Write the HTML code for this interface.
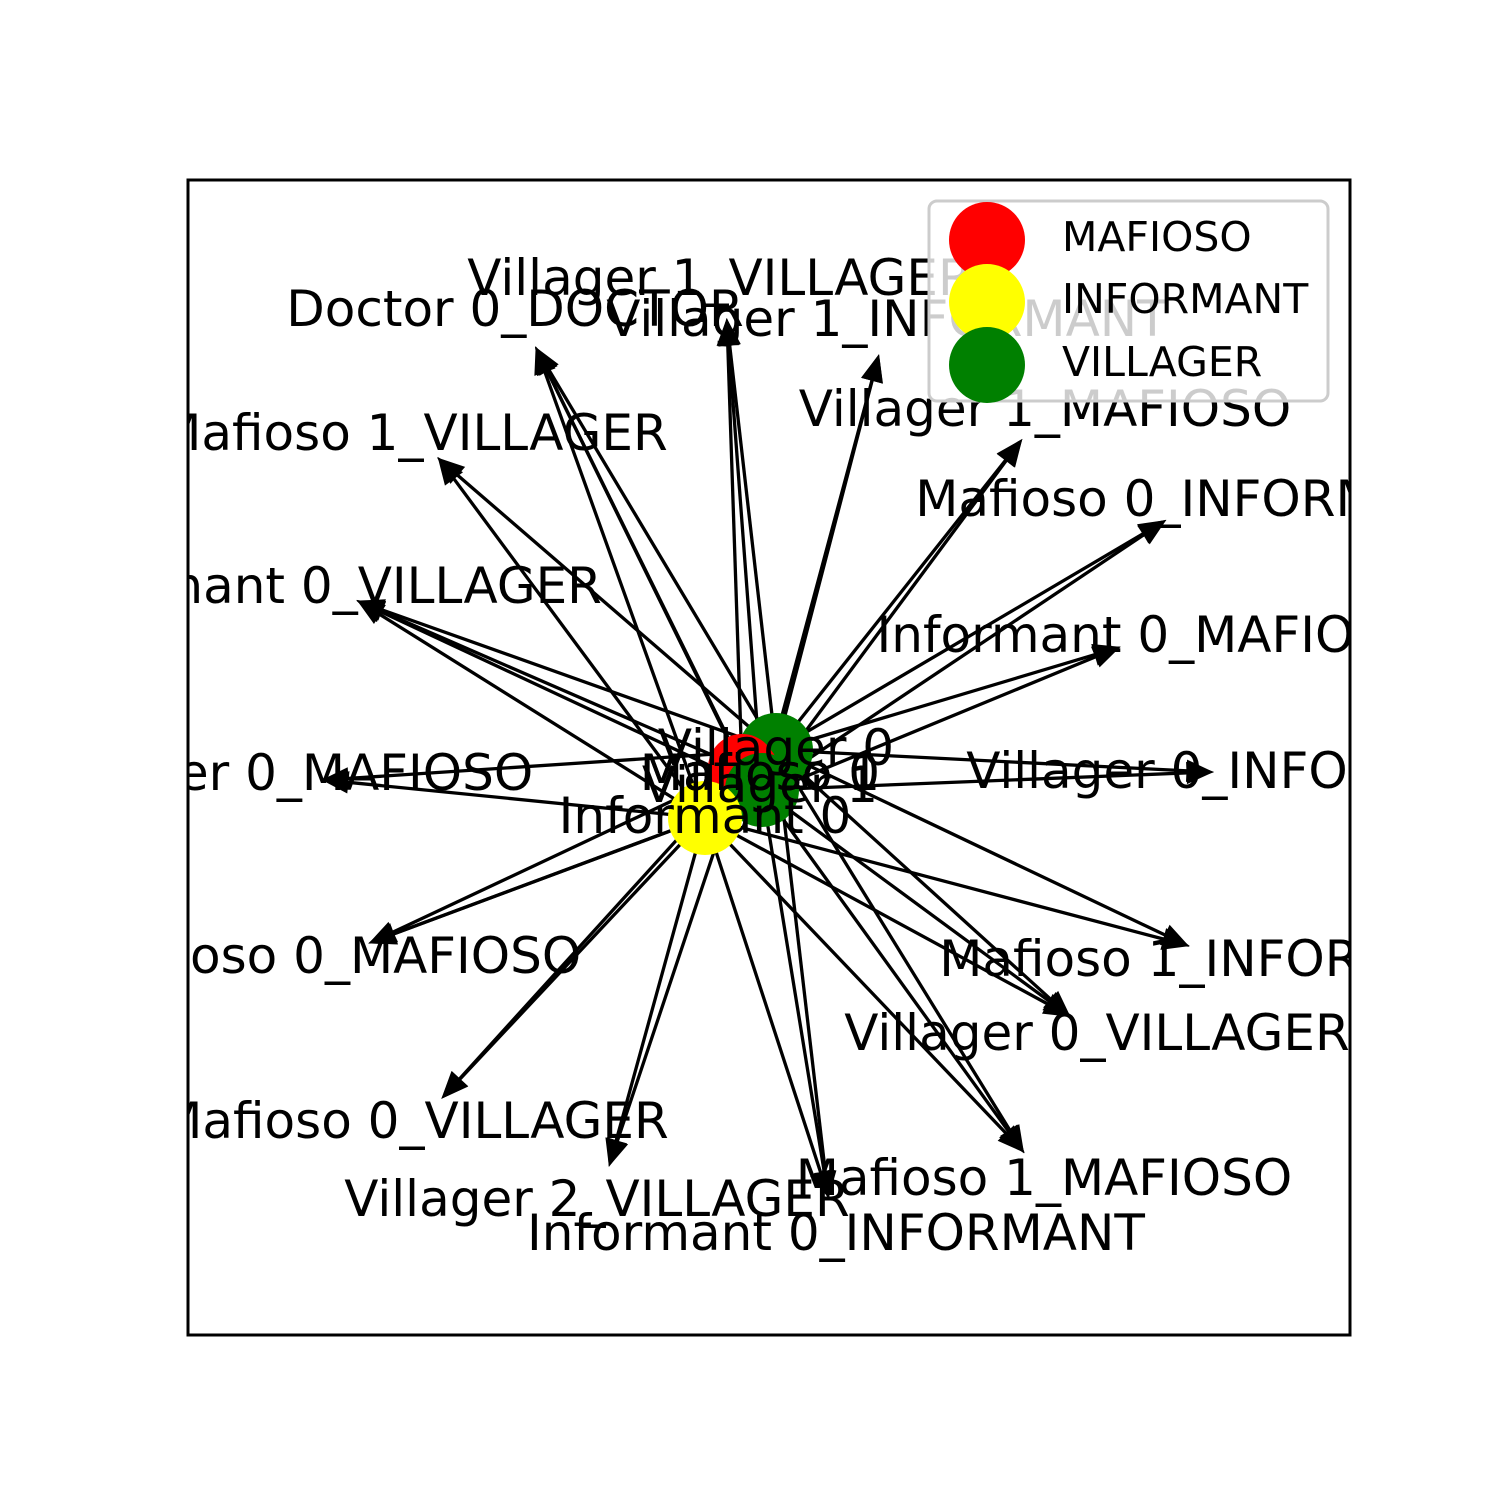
<!DOCTYPE html>
<html><head><meta charset="utf-8"><style>
html,body{margin:0;padding:0;background:#fff;}
svg{display:block;}
text{font-family:"DejaVu Sans","Liberation Sans",sans-serif;}
</style></head><body>
<svg id="chart" width="1500" height="1500" viewBox="0 0 1500 1500" xmlns="http://www.w3.org/2000/svg">
<defs><clipPath id="ax"><rect x="188" y="180" width="1162" height="1155"/></clipPath></defs>
<rect width="1500" height="1500" fill="#fff"/>
<g id="edges" clip-path="url(#ax)"></g>
<g id="nodes" clip-path="url(#ax)"></g>
<g id="labels" clip-path="url(#ax)"></g>
<rect x="188" y="180" width="1162" height="1155" fill="none" stroke="#000" stroke-width="3"/>
<g>
<rect x="929" y="201" width="399" height="200" rx="8" fill="#fff" fill-opacity="0.8" stroke="#ccc" stroke-width="3"/>
<circle cx="987" cy="240" r="38" fill="red"/>
<circle cx="987" cy="302" r="38" fill="yellow"/>
<circle cx="987" cy="365" r="38" fill="green"/>
<text x="1062" y="251" font-size="41">MAFIOSO</text>
<text x="1062" y="313" font-size="41">INFORMANT</text>
<text x="1062" y="376" font-size="41">VILLAGER</text>
</g>
</svg>
<script>
const centerNames = ["Villager 0","Mafioso 0","Mafioso 1","Villager 1","Informant 0"];
const centerColors = ["green","red","red","green","yellow"];
const centerPos = [[776,750],[742,768],[745,772],[762,790],[705,818]];
const outerNames = ["Villager 1_VILLAGER","Doctor 0_DOCTOR","Villager 1_INFORMANT","Mafioso 1_VILLAGER","Villager 1_MAFIOSO","Mafioso 0_INFORMANT","Informant 0_VILLAGER","Informant 0_MAFIOSO","Villager 0_MAFIOSO","Villager 0_INFORMANT","Mafioso 0_MAFIOSO","Mafioso 1_INFORMANT","Villager 0_VILLAGER","Mafioso 0_VILLAGER","Mafioso 1_MAFIOSO","Villager 2_VILLAGER","Informant 0_INFORMANT"];
const outerPos = [[727,322],[537,350],[878,358],[440,460],[1020,442],[1163,522],[360,602],[1117,648],[325,780],[1210,772],[372,942],[1186,945],[1068,1015],[444,1096],[1022,1150],[610,1163],[828,1195]];
const labelPos = [[720,277,"middle"],[515,308,"middle"],[887,318,"middle"],[413,432,"middle"],[1045,408,"middle"],[1198,498,"middle"],[321,585,"middle"],[1151,634,"middle"],[287,772,"middle"],[1247,770,"middle"],[333,955,"middle"],[1222,958,"middle"],[1097,1032,"middle"],[414,1120,"middle"],[1044,1177,"middle"],[597,1198,"middle"],[836,1232,"middle"]];
const edges = [[0,0],[1,0],[3,0],[0,1],[1,1],[2,1],[4,1],[0,2],[3,2],[0,3],[4,3],[0,4],[3,4],[0,5],[3,5],[0,6],[1,6],[4,6],[3,6],[0,7],[4,7],[4,8],[0,8],[0,9],[3,9],[4,10],[1,10],[4,10],[0,11],[4,11],[0,12],[3,12],[4,12],[4,13],[1,13],[0,14],[3,14],[4,14],[4,15],[1,15],[0,16],[3,16],[4,16]];
const NS="http://www.w3.org/2000/svg";
const ge=document.getElementById('edges'),gn=document.getElementById('nodes'),gl=document.getElementById('labels');
edges.forEach(([s,t],i)=>{
  const [x1,y1]=centerPos[s],[x2,y2]=outerPos[t];
  const dx=x2-x1,dy=y2-y1,L=Math.hypot(dx,dy),ux=dx/L,uy=dy/L;
  const bx=x2-ux*22,by=y2-uy*22;
  const ln=document.createElementNS(NS,'line');
  
  
  ln.setAttribute('x1',x1);ln.setAttribute('y1',y1);ln.setAttribute('x2',bx);ln.setAttribute('y2',by);
  ln.setAttribute('stroke','#000');ln.setAttribute('stroke-width','3.3');
  ge.appendChild(ln);
  const p=document.createElementNS(NS,'polygon');
  
  
  const px=-uy*9,py=ux*9;
  p.setAttribute('points',`${x2},${y2} ${bx+px},${by+py} ${bx-px},${by-py}`);
  p.setAttribute('fill','#000');p.setAttribute('stroke','#000');p.setAttribute('stroke-width','3');p.setAttribute('stroke-linejoin','miter');
  ge.appendChild(p);
});
centerPos.forEach(([x,y],i)=>{
  const c=document.createElementNS(NS,'circle');
  
  
  c.setAttribute('cx',x);c.setAttribute('cy',y);c.setAttribute('r',i==1||i==2?34:37);c.setAttribute('fill',centerColors[i]);
  gn.appendChild(c);
});
const cLab=[[776,765],[760,790],[760,790],[760,802],[705,833]];
centerNames.forEach((n,i)=>{
  const t=document.createElementNS(NS,'text');
  
  
  t.setAttribute('x',cLab[i][0]);t.setAttribute('y',cLab[i][1]);t.setAttribute('text-anchor','middle');t.setAttribute('font-size','50');
  t.textContent=n;gl.appendChild(t);
});
outerNames.forEach((n,i)=>{
  const t=document.createElementNS(NS,'text');
  
  
  t.setAttribute('x',labelPos[i][0]);t.setAttribute('y',labelPos[i][1]+18);t.setAttribute('text-anchor',labelPos[i][2]);t.setAttribute('font-size','50');
  t.textContent=n;gl.appendChild(t);
});
</script>
</body></html>
